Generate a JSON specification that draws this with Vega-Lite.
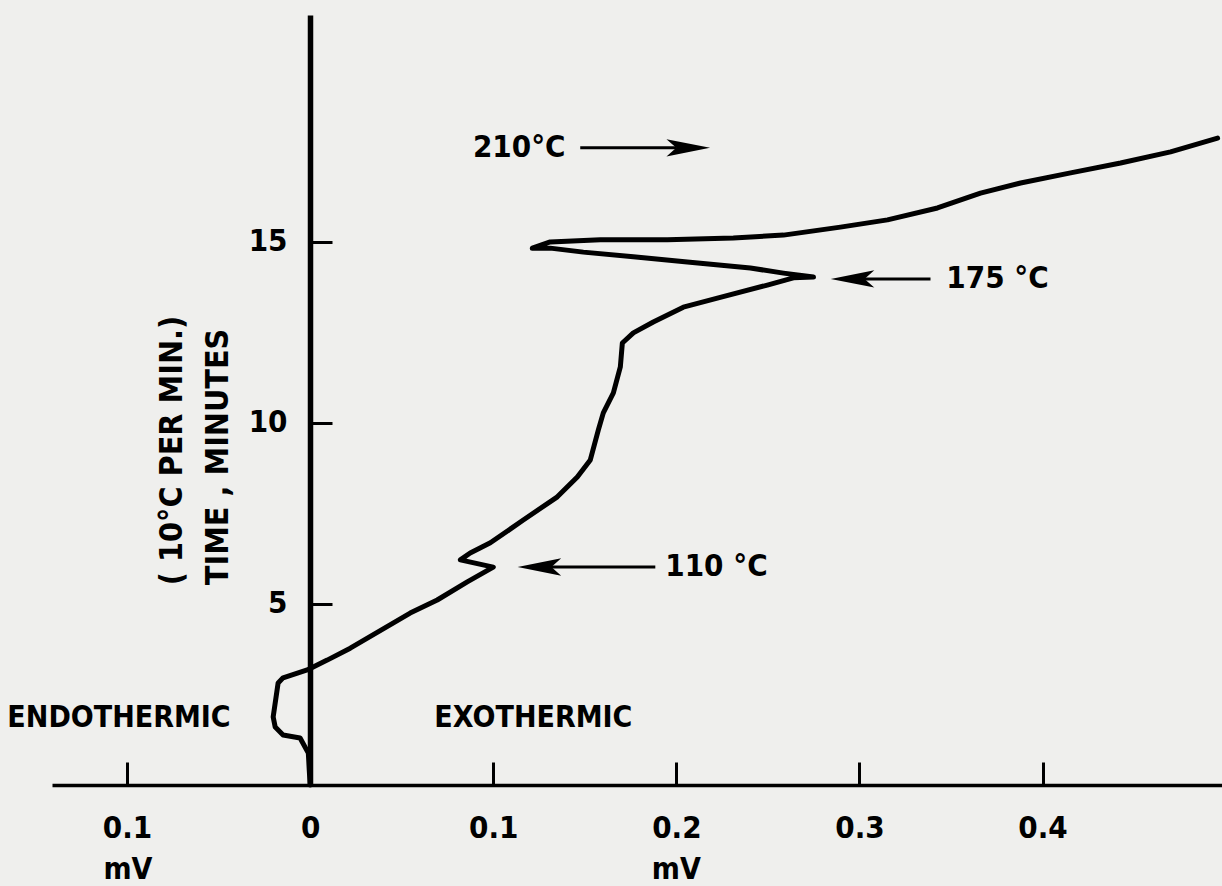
{
  "$schema": "https://vega.github.io/schema/vega-lite/v6.json",
  "autosize": {"type": "none"},
  "padding": {"left": 52, "top": 15, "right": 0, "bottom": 101},
  "width": 1170,
  "height": 770,
  "background": "#efefed",
  "config": {
    "view": {"stroke": null},
    "font": "DejaVu Sans Condensed",
    "axis": {
      "labelFont": "DejaVu Sans Condensed",
      "labelFontWeight": "bold",
      "labelFontSize": 31,
      "labelColor": "#000000",
      "domainColor": "#000000",
      "tickColor": "#000000",
      "grid": false,
      "title": null
    },
    "text": {"font": "DejaVu Sans Condensed", "fontWeight": "bold", "fontSize": 30, "color": "#000000"}
  },
  "datasets": {
    "curve": [
      {"i": 1, "mv": 0.0, "t": 0.0},
      {"i": 2, "mv": -0.0005, "t": 0.41},
      {"i": 3, "mv": -0.001, "t": 0.88},
      {"i": 4, "mv": -0.0055, "t": 1.3},
      {"i": 5, "mv": -0.0148, "t": 1.38},
      {"i": 6, "mv": -0.0191, "t": 1.6},
      {"i": 7, "mv": -0.0202, "t": 1.88},
      {"i": 8, "mv": -0.0175, "t": 2.82},
      {"i": 9, "mv": -0.0148, "t": 2.96},
      {"i": 10, "mv": -0.0016, "t": 3.18},
      {"i": 11, "mv": 0.0093, "t": 3.45},
      {"i": 12, "mv": 0.0219, "t": 3.78},
      {"i": 13, "mv": 0.0546, "t": 4.75},
      {"i": 14, "mv": 0.0694, "t": 5.11},
      {"i": 15, "mv": 0.0858, "t": 5.61},
      {"i": 16, "mv": 0.1, "t": 6.02},
      {"i": 17, "mv": 0.082, "t": 6.22},
      {"i": 18, "mv": 0.0874, "t": 6.41},
      {"i": 19, "mv": 0.0984, "t": 6.69},
      {"i": 20, "mv": 0.1164, "t": 7.32},
      {"i": 21, "mv": 0.135, "t": 7.96},
      {"i": 22, "mv": 0.1459, "t": 8.51},
      {"i": 23, "mv": 0.153, "t": 8.98},
      {"i": 24, "mv": 0.1574, "t": 9.81},
      {"i": 25, "mv": 0.1601, "t": 10.28},
      {"i": 26, "mv": 0.1656, "t": 10.83},
      {"i": 27, "mv": 0.1694, "t": 11.55},
      {"i": 28, "mv": 0.1705, "t": 12.21},
      {"i": 29, "mv": 0.1765, "t": 12.49},
      {"i": 30, "mv": 0.1874, "t": 12.79},
      {"i": 31, "mv": 0.2038, "t": 13.2},
      {"i": 32, "mv": 0.2224, "t": 13.45},
      {"i": 33, "mv": 0.2497, "t": 13.81},
      {"i": 34, "mv": 0.2639, "t": 14.01},
      {"i": 35, "mv": 0.2749, "t": 14.03},
      {"i": 36, "mv": 0.2585, "t": 14.14},
      {"i": 37, "mv": 0.2404, "t": 14.28},
      {"i": 38, "mv": 0.206, "t": 14.45},
      {"i": 39, "mv": 0.1765, "t": 14.59},
      {"i": 40, "mv": 0.1492, "t": 14.72},
      {"i": 41, "mv": 0.1311, "t": 14.83},
      {"i": 42, "mv": 0.1213, "t": 14.83},
      {"i": 43, "mv": 0.1311, "t": 15.0},
      {"i": 44, "mv": 0.1585, "t": 15.06},
      {"i": 45, "mv": 0.1951, "t": 15.06},
      {"i": 46, "mv": 0.2311, "t": 15.11},
      {"i": 47, "mv": 0.2585, "t": 15.19},
      {"i": 48, "mv": 0.2896, "t": 15.41},
      {"i": 49, "mv": 0.3153, "t": 15.61},
      {"i": 50, "mv": 0.3426, "t": 15.94},
      {"i": 51, "mv": 0.3661, "t": 16.35},
      {"i": 52, "mv": 0.388, "t": 16.63},
      {"i": 53, "mv": 0.4153, "t": 16.91},
      {"i": 54, "mv": 0.4426, "t": 17.18},
      {"i": 55, "mv": 0.4699, "t": 17.49},
      {"i": 56, "mv": 0.4956, "t": 17.87}
    ],
    "arrows": [
      {"x1": 0.1475, "x2": 0.2, "y": 17.6, "hx": 0.2065, "rot": 0},
      {"x1": 0.30, "x2": 0.3388, "y": 13.98, "hx": 0.2962, "rot": 180},
      {"x1": 0.13, "x2": 0.1885, "y": 6.02, "hx": 0.1252, "rot": 180}
    ],
    "labels": [
      {"x": 0.1142, "y": 17.6, "text": "210°C", "fs": 31},
      {"x": 0.3754, "y": 13.98, "text": "175 °C", "fs": 31},
      {"x": 0.2219, "y": 6.02, "text": "110 °C", "fs": 31},
      {"x": -0.1044, "y": 1.85, "text": "ENDOTHERMIC", "fs": 30},
      {"x": 0.1219, "y": 1.85, "text": "EXOTHERMIC", "fs": 30},
      {"x": -0.0995, "y": -2.35, "text": "mV", "fs": 30},
      {"x": 0.2, "y": -2.35, "text": "mV", "fs": 30}
    ],
    "titles": [
      {"x": -0.0754, "y": 5.52, "text": "( 10°C PER MIN.)"},
      {"x": -0.0503, "y": 5.52, "text": "TIME , MINUTES"}
    ]
  },
  "layer": [
    {
      "data": {"name": "curve"},
      "mark": {"type": "line", "color": "#000000", "strokeWidth": 5, "strokeJoin": "round", "strokeCap": "round"},
      "encoding": {
        "x": {
          "field": "mv", "type": "quantitative",
          "scale": {"domain": [-0.141, 0.498], "nice": false, "zero": false},
          "axis": {
            "orient": "bottom",
            "values": [-0.1, 0, 0.1, 0.2, 0.3, 0.4],
            "labelExpr": "datum.value == 0 ? '0' : format(abs(datum.value), '.1f')",
            "domainWidth": 3.5,
            "tickWidth": 3,
            "tickSize": -23,
            "labelPadding": 51
          }
        },
        "y": {
          "field": "t", "type": "quantitative",
          "scale": {"domain": [0, 21.27], "nice": false, "zero": false},
          "axis": {
            "orient": "left",
            "offset": -258,
            "values": [5, 10, 15],
            "domainWidth": 5.5,
            "tickWidth": 3,
            "tickSize": -22,
            "labelPadding": 45
          }
        },
        "order": {"field": "i", "type": "quantitative"}
      }
    },
    {
      "data": {"name": "arrows"},
      "mark": {"type": "rule", "color": "#000000", "strokeWidth": 3},
      "encoding": {
        "x": {"field": "x1", "type": "quantitative"},
        "x2": {"field": "x2"},
        "y": {"field": "y", "type": "quantitative"}
      }
    },
    {
      "data": {"name": "arrows"},
      "mark": {"type": "point", "filled": true, "color": "#000000", "opacity": 1, "size": 1900, "shape": "M-1,-0.4 L1,0 L-1,0.4 L-0.55,0 Z"},
      "encoding": {
        "x": {"field": "hx", "type": "quantitative"},
        "y": {"field": "y", "type": "quantitative"},
        "angle": {"field": "rot", "type": "quantitative", "scale": null}
      }
    },
    {
      "data": {"name": "labels"},
      "mark": {"type": "text", "align": "center", "baseline": "middle"},
      "encoding": {
        "x": {"field": "x", "type": "quantitative"},
        "y": {"field": "y", "type": "quantitative"},
        "text": {"field": "text"},
        "size": {"field": "fs", "type": "quantitative", "scale": null}
      }
    },
    {
      "data": {"name": "titles"},
      "mark": {"type": "text", "align": "left", "baseline": "middle", "angle": 270, "fontSize": 32},
      "encoding": {
        "x": {"field": "x", "type": "quantitative"},
        "y": {"field": "y", "type": "quantitative"},
        "text": {"field": "text"}
      }
    }
  ]
}
